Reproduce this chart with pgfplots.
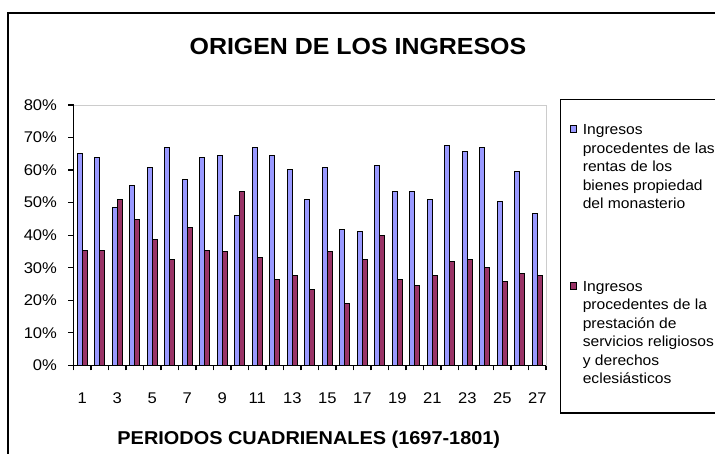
\documentclass[border=0pt]{standalone}
\usepackage{pgfplots}
\pgfplotsset{compat=1.18}
\usepackage{fontspec}
\setmainfont{Liberation Sans}[FakeStretch=1.07]
\definecolor{serA}{HTML}{9999FF}
\definecolor{serB}{HTML}{993366}
\pgfplotstableread{
cat blue red
1 65.1 35.4
2 63.8 35.4
3 48.6 51.0
4 55.2 44.8
5 60.8 38.6
6 66.9 32.5
7 57.1 42.4
8 63.8 35.4
9 64.4 34.9
10 46.0 53.5
11 66.9 33.1
12 64.4 26.3
13 60.1 27.6
14 50.9 23.3
15 60.7 34.9
16 41.8 18.9
17 41.1 32.5
18 61.3 39.8
19 53.4 26.3
20 53.4 24.5
21 50.9 27.6
22 67.5 31.9
23 65.7 32.5
24 66.9 30.0
25 50.3 25.7
26 59.5 28.2
27 46.6 27.6
}\datatable
\newcommand{\legtext}[1]{\parbox[t]{150pt}{\raggedright #1}}
\begin{document}
\begin{tikzpicture}
\useasboundingbox (0,0) rectangle (715pt,454pt);
\clip (0,0) rectangle (715pt,454pt);
\fill[white] (0,0) rectangle (715pt,454pt);
\draw[line width=2pt] (7.7pt,441pt) rectangle (740pt,-20pt);
\draw[line width=1.6pt] (560.3pt,354.3pt) rectangle (740pt,40.7pt);
\begin{axis}[
  at={(73.5pt,88.7pt)}, anchor=south west, scale only axis,
  width=472.5pt, height=260.3pt,
  xmin=0.5, xmax=27.5, ymin=0, ymax=80,
  axis line style={draw=gray!40, line width=1pt},
  tick align=outside,
  tick style={black, line width=1.2pt},
  major tick length=5pt, minor tick length=5pt,
  xtick={1,3,...,27},
  xticklabels={1,3,5,7,9,11,13,15,17,19,21,23,25,27},
  major x tick style={draw=none},
  minor xtick={0.5,1.5,...,27.5},
  ytick={0,10,...,80},
  yticklabels={0\%,10\%,20\%,30\%,40\%,50\%,60\%,70\%,80\%},
  xtick pos=bottom, ytick pos=left,
  ticklabel style={font=\fontsize{15.5}{18}\selectfont},
  xticklabel style={yshift=-19pt},
  yticklabel style={xshift=-8pt},
  title={ORIGEN DE LOS INGRESOS},
  title style={at={(axis description cs:0.602,1.172)}, anchor=base, font=\fontsize{23.3}{28}\selectfont\bfseries},
  xlabel={PERIODOS CUADRIENALES (1697-1801)},
  xlabel style={at={(axis description cs:0.498,-0.305)}, anchor=base, font=\fontsize{18.6}{22}\selectfont\bfseries},
  legend style={at={(axis description cs:1.0493,0.925)}, anchor=north west, draw=none, fill=none,
    inner sep=0pt, column sep=5.7pt, row sep=145pt,
    cells={anchor=base west},
    nodes={inner sep=0pt, font=\fontsize{14.6}{18.5}\selectfont}},
  after end axis/.code={
    \draw[black, line width=1.5pt] (rel axis cs:0,1) -- (rel axis cs:0,0) -- (rel axis cs:1,0);
  },
]
\addplot[ybar, bar width=5pt, bar shift=-2.5pt, fill=serA, draw=black, line width=1pt,
  legend image code/.code={\draw[fill=serA, draw=black, line width=0.9pt] (0pt,2.3pt) rectangle (6.7pt,9pt);}]
  table[x=cat, y=blue] {\datatable};
\addlegendentry{\legtext{Ingresos\\procedentes de las\\rentas de los\\bienes propiedad\\del monasterio}}
\addplot[ybar, bar width=5pt, bar shift=2.5pt, fill=serB, draw=black, line width=1pt,
  legend image code/.code={\draw[fill=serB, draw=black, line width=0.9pt] (0pt,2.3pt) rectangle (6.7pt,9pt);}]
  table[x=cat, y=red] {\datatable};
\addlegendentry{\legtext{Ingresos\\procedentes de la\\prestación de\\servicios religiosos\\y derechos\\eclesiásticos}}
\end{axis}
\end{tikzpicture}
\end{document}
